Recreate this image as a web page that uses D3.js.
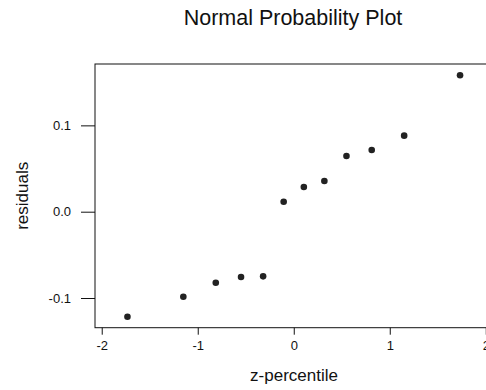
<!DOCTYPE html>
<html>
<head>
<meta charset="utf-8">
<script src="https://cdn.jsdelivr.net/npm/d3@7"></script>
<style>
    body { margin: 0; background: #fff; }
    svg text { font-family: "Liberation Sans", Arial, sans-serif; fill: #111; }
</style>
</head>
<body>
<svg id="chart"></svg>
<script>
// normal quantiles (z-percentile) and the residuals
const zScores = [-1.732, -1.150, -0.812, -0.549, -0.319, -0.105, 0.105, 0.319, 0.549, 0.812, 1.150, 1.732];
const residuals = [-0.1217, -0.0985, -0.0823, -0.0757, -0.0749, 0.0116, 0.0286, 0.0356, 0.0645, 0.0715, 0.0881, 0.158];
const xTicks = [-2, -1, 0, 1, 2];
const yTicks = [-0.1, 0.0, 0.1];

const width = 486;
const height = 390;

const svg = d3.select("#chart")
    .attr("width", width)
    .attr("height", height);

const box = { left: 95, top: 64, right: 492.5, bottom: 327.7 };

const x = d3.scaleLinear().domain([-2.07, 2.07]).range([box.left, box.right]);
const y = d3.scaleLinear().domain([-0.1344, 0.1711]).range([box.bottom, box.top]);

// plain hyphen for negatives, like the original
const hyphen = f => d => f(d).replace("\u2212", "-");

// plot frame
svg.append("rect")
    .attr("x", box.left)
    .attr("y", box.top)
    .attr("width", box.right - box.left)
    .attr("height", box.bottom - box.top)
    .attr("fill", "none")
    .attr("stroke", "#111")
    .attr("stroke-width", 1);

// x axis: ticks hang below the frame
const xAxis = svg.append("g")
    .attr("transform", `translate(0,${box.bottom})`)
    .call(d3.axisBottom(x).tickValues(xTicks).tickFormat(hyphen(d3.format("d"))).tickSize(7).tickPadding(6));
xAxis.select(".domain").remove();
xAxis.selectAll("line").attr("stroke", "#111");
xAxis.selectAll("text").style("font-size", "13px").attr("fill", "#111");

// y axis
const yAxis = svg.append("g")
    .attr("transform", `translate(${box.left},0)`)
    .call(d3.axisLeft(y).tickValues(yTicks).tickFormat(hyphen(d3.format(".1f"))).tickSize(14).tickPadding(10));
yAxis.select(".domain").remove();
yAxis.selectAll("line").attr("stroke", "#111");
yAxis.selectAll("text").style("font-size", "13px").attr("fill", "#111");

// points
svg.append("g")
    .selectAll("circle")
    .data(zScores)
    .enter().append("circle")
    .attr("cx", d => x(d))
    .attr("cy", (d, i) => y(residuals[i]))
    .attr("r", 3.3)
    .attr("fill", "#222");

// title and axis labels
svg.append("text")
    .attr("x", 293)
    .attr("y", 25)
    .attr("text-anchor", "middle")
    .style("font-size", "21.5px")
    .text("Normal Probability Plot");

svg.append("text")
    .attr("x", 294)
    .attr("y", 381)
    .attr("text-anchor", "middle")
    .style("font-size", "17px")
    .text("z-percentile");

svg.append("text")
    .attr("transform", `translate(28,${(box.top + box.bottom) / 2}) rotate(-90)`)
    .attr("text-anchor", "middle")
    .style("font-size", "17px")
    .text("residuals");
</script>
</body>
</html>
